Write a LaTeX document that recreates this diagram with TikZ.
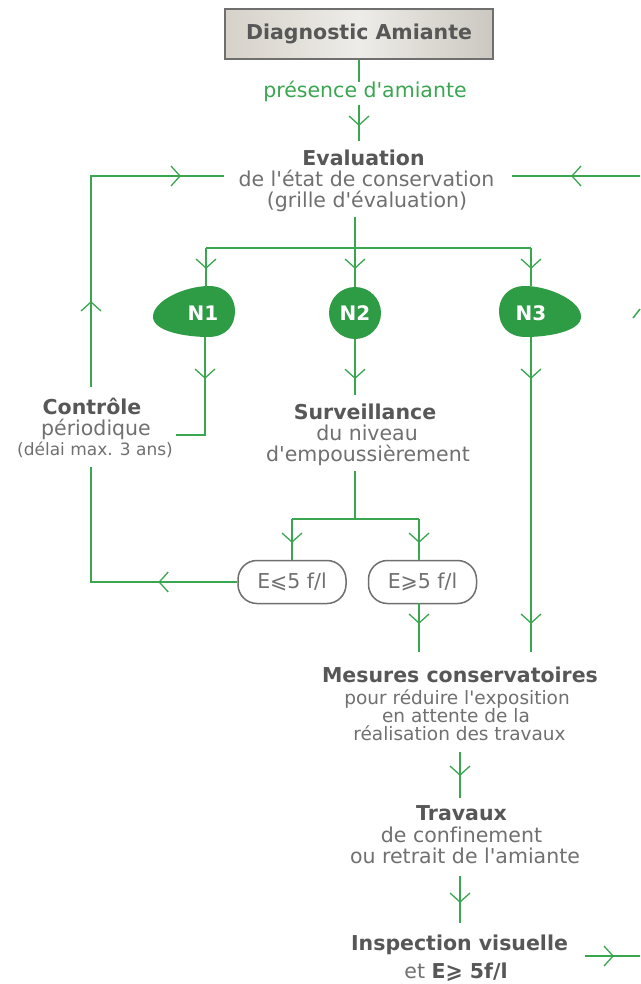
\documentclass[tikz,border=0pt]{standalone}
\usepackage{fontspec}
\setmainfont{DejaVu Sans}[Ligatures={TeXOff,NoCommon}]
\usetikzlibrary{decorations.markings}
\definecolor{gr}{HTML}{3AA650}
\definecolor{nfill}{HTML}{2E9B45}
\definecolor{txt}{HTML}{707070}
\definecolor{btxt}{HTML}{575757}
\definecolor{boxline}{HTML}{6F6F6F}
\tikzset{
  ln/.style={draw=gr, line width=1.5pt},
  chev/.style={postaction={decorate,decoration={markings,mark=at position #1 with {\draw[gr,line width=1.3pt] (-9pt,-10pt) -- (0pt,0pt) -- (-9pt,10pt);}}}},
  tx/.style={text=txt, font=\fontsize{20.5}{21}\selectfont, inner sep=0pt, anchor=base},
  txs/.style={text=txt, font=\fontsize{18.5}{19}\selectfont, inner sep=0pt, anchor=base},
  txxs/.style={text=txt, font=\fontsize{17}{18}\selectfont, inner sep=0pt, anchor=base},
  bt/.style={text=btxt, font=\fontsize{20.5}{21}\selectfont\bfseries, inner sep=0pt, anchor=base},
  nlab/.style={text=white, font=\fontsize{20}{21}\selectfont\bfseries, inner sep=0pt},
  ebox/.style={draw=boxline, line width=1.5pt, fill=white, rounded corners=19pt, minimum width=108pt, minimum height=43pt, text=txt, font=\fontsize{20.5}{21}\selectfont, inner sep=0pt},
  blob/.style={fill=nfill}
}
\begin{document}
\begin{tikzpicture}[x=1pt,y=-1pt]
\useasboundingbox (0,0) rectangle (640,984);
\fill[white] (0,0) rectangle (640,984);

% top box
\node[draw=boxline, line width=1.5pt, minimum width=268pt, minimum height=50pt,
      left color={rgb,255:red,214;green,210;blue,202}, right color={rgb,255:red,204;green,200;blue,193},
      middle color={rgb,255:red,238;green,236;blue,232},
      text=btxt, font=\fontsize{20.5}{21}\selectfont\bfseries, inner sep=0pt] (diag) at (359,34) {Diagnostic Amiante};
\node[tx, text=gr] (pres) at (365,98) {présence d'amiante};
\coordinate (c1) at (359,82);
\coordinate (c2) at (359,105);
\coordinate (c3) at (359,141);
\draw[ln] (diag.south) -- (c1);
\draw[ln,chev=20pt] (c2) -- (c3);

% evaluation
\node[bt] (ev1) at (363.5,165.5) {Evaluation};
\node[tx] (ev2) at (366.5,186.5) {de l'état de conservation};
\node[tx] (ev3) at (367,207.5) {(grille d'évaluation)};
\coordinate (evL) at (224,176);
\coordinate (evR) at (512,176);
\coordinate (loopA) at (91,387);
\coordinate (loopB) at (91,176);
\coordinate (rightA) at (640,176);
\draw[ln,chev=85pt,chev=300pt] (loopA) -- (loopB) -- (evL);
\draw[ln,chev=68pt] (rightA) -- (evR);

\coordinate (evB) at (355,217);
\coordinate (br1) at (355,248);
\coordinate (brL) at (206,248);
\coordinate (brR) at (531,248);
\coordinate (n1top) at (206,287);
\coordinate (n3top) at (531,286);
\draw[ln] (evB) -- (br1);
\draw[ln] (brL) -- (brR);

% N nodes
\fill[blob] (153,316) .. controls (154,300) and (186,286) .. (209,286)
  .. controls (227,286) and (235,299) .. (235,311)
  .. controls (235,326) and (226,337) .. (208,337)
  .. controls (188,337) and (152,332) .. (153,316) -- cycle;
\fill[blob] (581,316) .. controls (580,300) and (548,286) .. (525,286)
  .. controls (507,286) and (499,299) .. (499,311)
  .. controls (499,326) and (508,337) .. (526,337)
  .. controls (546,337) and (582,332) .. (581,316) -- cycle;
\node[nlab] (n1) at (203,313) {N1};
\node[circle, fill=nfill, minimum size=52pt, inner sep=0pt, text=white, font=\fontsize{20}{21}\selectfont\bfseries] (n2) at (355,313) {N2};
\node[nlab] (n3) at (531,313) {N3};
\draw[ln,chev=20pt] (brL) -- (n1top);
\draw[ln,chev=20pt] (br1) -- (n2.north);
\draw[ln,chev=20pt] (brR) -- (n3top);

\coordinate (frA) at (633,318);
\coordinate (frB) at (640,309);
\draw[ln] (frA) -- (frB);

% below N
\coordinate (n1bot) at (205,337);
\coordinate (n1c) at (205,435);
\coordinate (n1e) at (176,435);
\coordinate (sv0) at (355,395);
\coordinate (n3bot) at (531,337);
\coordinate (n3e) at (531,652);
\draw[ln,chev=41pt] (n1bot) -- (n1c) -- (n1e);
\draw[ln,chev=39pt] (n2.south) -- (sv0);
\draw[ln,chev=41pt,chev=286pt] (n3bot) -- (n3e);

% controle
\node[bt] (co1) at (92,414.5) {Contrôle};
\node[tx] (co2) at (96,435.5) {périodique};
\node[txxs] (co3) at (95,455.5) {(délai max. 3 ans)};

% surveillance
\node[bt] (su1) at (365,419.5) {Surveillance};
\node[tx] (su2) at (367,440.5) {du niveau};
\node[tx] (su3) at (368,461.5) {d'empoussièrement};

\coordinate (sv1) at (355,471);
\coordinate (sv2) at (355,519);
\coordinate (svL) at (292,519);
\coordinate (svR) at (419,519);
\coordinate (e2top) at (419,560);
\draw[ln] (sv1) -- (sv2);
\draw[ln] (svL) -- (svR);

\node[ebox] (e1) at (292,582) {E⩽5 f/l};
\node[ebox] (e2) at (422.5,582) {E⩾5 f/l};
\draw[ln,chev=23pt] (svL) -- (e1.north);
\draw[ln,chev=23pt] (svR) -- (e2top);

\coordinate (lowC) at (91,582);
\coordinate (lowT) at (91,467);
\draw[ln,chev=78pt] (e1.west) -- (lowC) -- (lowT);

\coordinate (e2bot) at (419,603);
\coordinate (m0) at (419,652);
\draw[ln,chev=20pt] (e2bot) -- (m0);

% mesures
\node[bt] (me1) at (460,682.5) {Mesures conservatoires};
\node[txs] (me2) at (457,704) {pour réduire l'exposition};
\node[txs] (me3) at (456,722) {en attente de la};
\node[txs] (me4) at (459.5,740) {réalisation des travaux};
\coordinate (m1) at (460,752);
\coordinate (m2) at (460,798);
\draw[ln,chev=23pt] (m1) -- (m2);

% travaux
\node[bt] (tr1) at (461.5,820.5) {Travaux};
\node[tx] (tr2) at (461.5,842.5) {de confinement};
\node[tx] (tr3) at (465,863.5) {ou retrait de l'amiante};
\coordinate (t1) at (460,876);
\coordinate (t2) at (460,923);
\draw[ln,chev=26pt] (t1) -- (t2);

% inspection
\node[bt] (in1) at (459.5,950.5) {Inspection visuelle};
\node[tx] (in2) at (456,978.5) {et {\bfseries\color{btxt}E⩾ 5f/l}};
\coordinate (i1) at (585,956);
\coordinate (i2) at (640,956);
\draw[ln,chev=28pt] (i1) -- (i2);
\end{tikzpicture}
\end{document}
